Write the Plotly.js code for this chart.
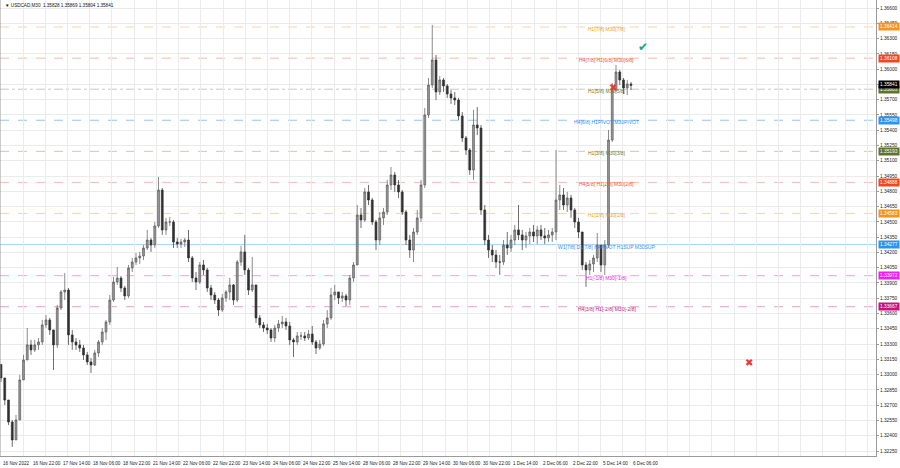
<!DOCTYPE html>
<html><head><meta charset="utf-8">
<script src="https://cdn.plot.ly/plotly-3.0.1.min.js"></script>
<style>html,body{margin:0;padding:0;background:#fff;}#c{width:900px;height:468px;}</style>
</head><body><div id="c"></div>
<script>
// ---- data (USDCAD M30, grouped as 2-hour candles; bar index in M30 bars) ----
const firstOpen = 1.33100;
const highs = [1.33066,1.32967,1.32751,1.32555,1.32604,1.32997,1.33194,1.33458,1.33341,1.33341,1.33360,1.33537,1.33586,1.33557,1.33439,1.33684,1.33831,1.33998,1.33851,1.33439,
1.33360,1.33341,1.33292,1.33223,1.33164,1.33243,1.33341,1.33458,1.33537,1.33782,1.33959,1.34057,1.33969,1.33871,1.34077,1.34146,1.34195,1.34205,1.34273,1.34421,
1.34342,1.34499,1.34941,1.34833,1.34539,1.34548,1.34519,1.34342,1.34332,1.34342,1.34421,1.34165,1.34008,1.34106,1.34126,1.34048,1.33881,1.33812,1.33753,1.33792,
1.33831,1.33949,1.33890,1.34126,1.34264,1.34372,1.34048,1.34156,1.33881,1.33586,1.33517,1.33498,1.33458,1.33488,1.33537,1.33576,1.33557,1.33517,1.33360,1.33419,
1.33419,1.33419,1.33439,1.33478,1.33341,1.33341,1.33537,1.33635,1.33851,1.33881,1.33812,1.33812,1.33792,1.33979,1.34106,1.34666,1.34637,1.34833,1.34863,1.34735,
1.34519,1.34597,1.34637,1.34912,1.35039,1.34990,1.34912,1.34813,1.34617,1.34372,1.34440,1.34617,1.34912,1.35619,1.35913,1.36434,1.36139,1.35933,1.35913,1.35854,
1.35795,1.35776,1.35717,1.35579,1.35344,1.35226,1.35599,1.35628,1.35452,1.34666,1.34372,1.34273,1.34224,1.34175,1.34322,1.34401,1.34372,1.34470,1.34666,1.34421,
1.34401,1.34440,1.34470,1.34460,1.34470,1.34440,1.34421,1.34440,1.35206,1.34863,1.34833,1.34794,1.34764,1.34637,1.34539,1.34401,1.34106,1.34126,1.34175,1.34391,
1.34273,1.34322,1.35403,1.35864,1.36041,1.35992,1.35913,1.35894,1.35874];
const lows = [1.32928,1.32702,1.32506,1.32290,1.32359,1.32555,1.32948,1.33144,1.33194,1.33223,1.33243,1.33292,1.33458,1.33390,1.33046,1.33262,1.33635,1.33733,1.33292,1.33243,
1.33243,1.33223,1.33144,1.33095,1.33017,1.33085,1.33174,1.33292,1.33341,1.33488,1.33714,1.33881,1.33812,1.33733,1.33753,1.34008,1.34077,1.34087,1.34126,1.34224,
1.34205,1.34244,1.34440,1.34372,1.34372,1.34460,1.34244,1.34244,1.34244,1.34254,1.34106,1.33910,1.33831,1.33890,1.33979,1.33812,1.33733,1.33694,1.33576,1.33616,
1.33714,1.33733,1.33684,1.33714,1.34067,1.33979,1.33782,1.33812,1.33508,1.33458,1.33419,1.33399,1.33321,1.33321,1.33419,1.33458,1.33439,1.33292,1.33174,1.33292,
1.33341,1.33331,1.33341,1.33292,1.33203,1.33243,1.33282,1.33458,1.33537,1.33733,1.33694,1.33714,1.33674,1.33684,1.33910,1.34077,1.34440,1.34499,1.34666,1.34470,
1.34224,1.34273,1.34470,1.34568,1.34813,1.34794,1.34735,1.34568,1.34273,1.34146,1.34106,1.34372,1.34499,1.34833,1.35520,1.35815,1.35697,1.35746,1.35776,1.35717,
1.35658,1.35648,1.35501,1.35285,1.35157,1.34961,1.34912,1.35353,1.34568,1.34273,1.34146,1.34106,1.34048,1.33979,1.34077,1.34175,1.34205,1.34273,1.34322,1.34224,
1.34244,1.34283,1.34303,1.34283,1.34322,1.34283,1.34303,1.34303,1.34322,1.34617,1.34617,1.34597,1.34539,1.34440,1.34342,1.34028,1.33861,1.33979,1.34008,1.34106,
1.34008,1.33979,1.34244,1.35285,1.35776,1.35844,1.35756,1.35746,1.35795];
const closes = [1.32967,1.32751,1.32535,1.32359,1.32555,1.32948,1.33144,1.33292,1.33243,1.33292,1.33321,1.33488,1.33537,1.33439,1.33292,1.33655,1.33812,1.33831,1.33390,1.33321,
1.33292,1.33262,1.33194,1.33125,1.33095,1.33213,1.33321,1.33419,1.33517,1.33733,1.33910,1.33949,1.33851,1.33773,1.34048,1.34106,1.34146,1.34165,1.34244,1.34322,
1.34273,1.34460,1.34813,1.34421,1.34499,1.34499,1.34303,1.34283,1.34303,1.34322,1.34146,1.33949,1.33910,1.34077,1.34028,1.33851,1.33782,1.33733,1.33635,1.33753,
1.33812,1.33881,1.33733,1.34106,1.34205,1.34028,1.33831,1.33881,1.33557,1.33488,1.33458,1.33439,1.33360,1.33458,1.33498,1.33517,1.33478,1.33341,1.33321,1.33380,
1.33380,1.33360,1.33399,1.33321,1.33262,1.33301,1.33498,1.33557,1.33782,1.33812,1.33753,1.33773,1.33733,1.33949,1.34077,1.34568,1.34519,1.34794,1.34715,1.34499,
1.34322,1.34539,1.34597,1.34863,1.34961,1.34863,1.34794,1.34597,1.34322,1.34224,1.34401,1.34539,1.34863,1.35550,1.35844,1.36090,1.35776,1.35894,1.35835,1.35756,
1.35717,1.35697,1.35540,1.35324,1.35206,1.35010,1.35452,1.35422,1.34617,1.34322,1.34224,1.34175,1.34106,1.34106,1.34273,1.34244,1.34322,1.34421,1.34372,1.34322,
1.34362,1.34401,1.34362,1.34421,1.34362,1.34342,1.34372,1.34401,1.34715,1.34764,1.34666,1.34735,1.34617,1.34499,1.34401,1.34077,1.34028,1.34087,1.34146,1.34273,
1.34077,1.34273,1.35304,1.35795,1.35972,1.35894,1.35815,1.35854,1.35841];
const barsPerCandle = 4;

// time labels (every 32 M30 bars)
const timeLabels = ["16 Nov 2022","16 Nov 22:00","17 Nov 14:00","18 Nov 06:00","18 Nov 22:00","21 Nov 14:00","22 Nov 06:00","22 Nov 22:00","23 Nov 14:00","24 Nov 06:00","24 Nov 22:00","25 Nov 14:00","28 Nov 06:00","28 Nov 22:00","29 Nov 14:00","30 Nov 06:00","30 Nov 22:00","1 Dec 14:00","2 Dec 06:00","2 Dec 22:00","5 Dec 14:00","6 Dec 06:00"];
const labelStepBars = 32;

// Murrey-math style levels
const levelPrices = [1.36414,1.36108,1.35803,1.35498,1.35193,1.34888,1.34583,1.34277,1.33972,1.33667];
const levelNames = ["H1[7/8] M30[7/8]","H4[7/8] H1[6/8] M30[6/8]","H1[5/8] M30[5/8]","H4[6/8] H1PIVOT M30PIVOT","H1[3/8] M30[3/8]","H4[5/8] H1[2/8] M30[2/8]","H1[1/8] M30[1/8]","W1[7/8] D1[7/8] H4PIVOT H1SUP M30SUP","H1[-1/8] M30[-1/8]","H4[3/8] H1[-2/8] M30[-2/8]"];
const currentPrice = 1.35841;
const titleText = "\u25BC USDCAD,M30  1.35828 1.35869 1.35804 1.35841";

// signal marks [bar index, price]
const checkMarks = [[684.8, 1.36217]];
const crossMarks = [[652.8, 1.35815],[797.9, 1.33115]];

// y tick values
const yTicks = [];
for (let v = 132250; v <= 136600; v += 150) yTicks.push(v/100000);

// ---- styles ----
const lvlText = ["#f59a2c","#f2552c","#6f7d2c","#2f8ff0","#6f7d2c","#f2552c","#f59a2c","#2f8ff0","#ee22ee","#c4178a"];
const lvlBox  = ["#f7941d","#f0481e","#5d7330","#2b93f5","#5d7330","#f0481e","#f7941d","#2b93f5","#f020f0","#c4157f"];
const lvlLine = ["rgba(247,160,60,0.45)","rgba(240,80,40,0.4)","rgba(130,130,130,0.45)","rgba(40,140,240,0.5)","rgba(130,130,110,0.45)","rgba(240,80,40,0.4)","rgba(247,160,60,0.45)","rgba(40,140,240,0.4)","rgba(240,40,200,0.45)","rgba(210,30,140,0.45)"];
const lvlDash = ["dash","dash","dashdot","dash","dash","dash","dash","solid","dash","dash"];

const FONT = "Liberation Sans, Arial, sans-serif";
const bars = closes.map((_, i) => i * barsPerCandle);
const opens = closes.map((_, i) => i === 0 ? firstOpen : closes[i-1]);

const trace = {
  type: 'candlestick', x: bars, open: opens, high: highs, low: lows, close: closes,
  increasing: {line: {color: '#5a5a5a', width: 0.7}, fillcolor: '#9a9a9a'},
  decreasing: {line: {color: '#303030', width: 0.7}, fillcolor: '#303030'},
  whiskerwidth: 0, hoverinfo: 'skip', showlegend: false
};

const shapes = levelPrices.map((p, i) => ({
  type: 'line', xref: 'paper', x0: 0, x1: 1, yref: 'y', y0: p, y1: p,
  line: {color: lvlLine[i], width: 1, dash: lvlDash[i]}, layer: 'below'
}));
shapes.push({type:'line', xref:'paper', yref:'paper', x0:0, x1:0, y0:0, y1:1, line:{color:'#9a9a9a', width:1}});

const ann = [];
timeLabels.forEach((t, k) => ann.push({
  x: k * labelStepBars, xref: 'x', y: 0, yref: 'paper', yanchor: 'top', xanchor: 'left',
  text: t, showarrow: false, font: {family: FONT, size: 4.6, color: '#222'}, xshift: 0, yshift: -3
}));
levelPrices.forEach((p, i) => {
  ann.push({x: 646, xref: 'x', y: p, yref: 'y', text: levelNames[i], showarrow: false,
    xanchor: 'center', yanchor: 'middle', yshift: -2, font: {family: FONT, size: 5, color: lvlText[i]}});
  ann.push({x: 1, xref: 'paper', y: p, yref: 'y', text: p.toFixed(5), showarrow: false,
    xanchor: 'left', yanchor: 'middle', xshift: 2, bgcolor: lvlBox[i], borderpad: 1,
    font: {family: FONT, size: 4.8, color: '#ffffff'}});
});
ann.push({x: 1, xref: 'paper', y: currentPrice, yref: 'y', text: currentPrice.toFixed(5), showarrow: false,
  xanchor: 'left', yanchor: 'middle', xshift: 2, yshift: 1, bgcolor: '#000000', borderpad: 1,
  font: {family: FONT, size: 4.8, color: '#ffffff'}});
ann.push({x: 0, xref: 'paper', y: 1, yref: 'paper', xanchor: 'left', yanchor: 'top', xshift: 3, yshift: -1,
  text: titleText, showarrow: false, font: {family: FONT, size: 4.6, color: '#111'}});
checkMarks.forEach(m => ann.push({x: m[0], y: m[1], xref: 'x', yref: 'y', text: '\u2714', showarrow: false,
  font: {family: 'DejaVu Sans', size: 12, color: '#17a589'}}));
crossMarks.forEach(m => ann.push({x: m[0], y: m[1], xref: 'x', yref: 'y', text: '\u2716', showarrow: false,
  font: {family: 'DejaVu Sans', size: 10, color: '#e8383d'}}));

const layout = {
  width: 900, height: 468, margin: {l: 0, r: 24, t: 0, b: 12},
  paper_bgcolor: '#ffffff', plot_bgcolor: '#ffffff', showlegend: false,
  xaxis: {range: [-1.067, 933.33], tickmode: 'linear', tick0: 23.5, dtick: 23.7, showticklabels: false,
    showgrid: true, gridcolor: '#ebebeb', gridwidth: 1, zeroline: false, showline: true, linecolor: '#9a9a9a',
    ticks: '', rangeslider: {visible: false}, fixedrange: true},
  yaxis: {side: 'right', range: [1.32201, 1.36679], tickmode: 'array', tickvals: yTicks,
    ticktext: yTicks.map(v => v.toFixed(5)), showgrid: true, gridcolor: '#ebebeb', zeroline: false,
    showline: true, linecolor: '#9a9a9a', ticks: 'outside', ticklen: 2, tickcolor: '#9a9a9a',
    tickfont: {family: FONT, size: 4.8, color: '#222'}, fixedrange: true},
  shapes: shapes, annotations: ann
};
Plotly.newPlot('c', [trace], layout, {staticPlot: true, displayModeBar: false});
</script></body></html>
